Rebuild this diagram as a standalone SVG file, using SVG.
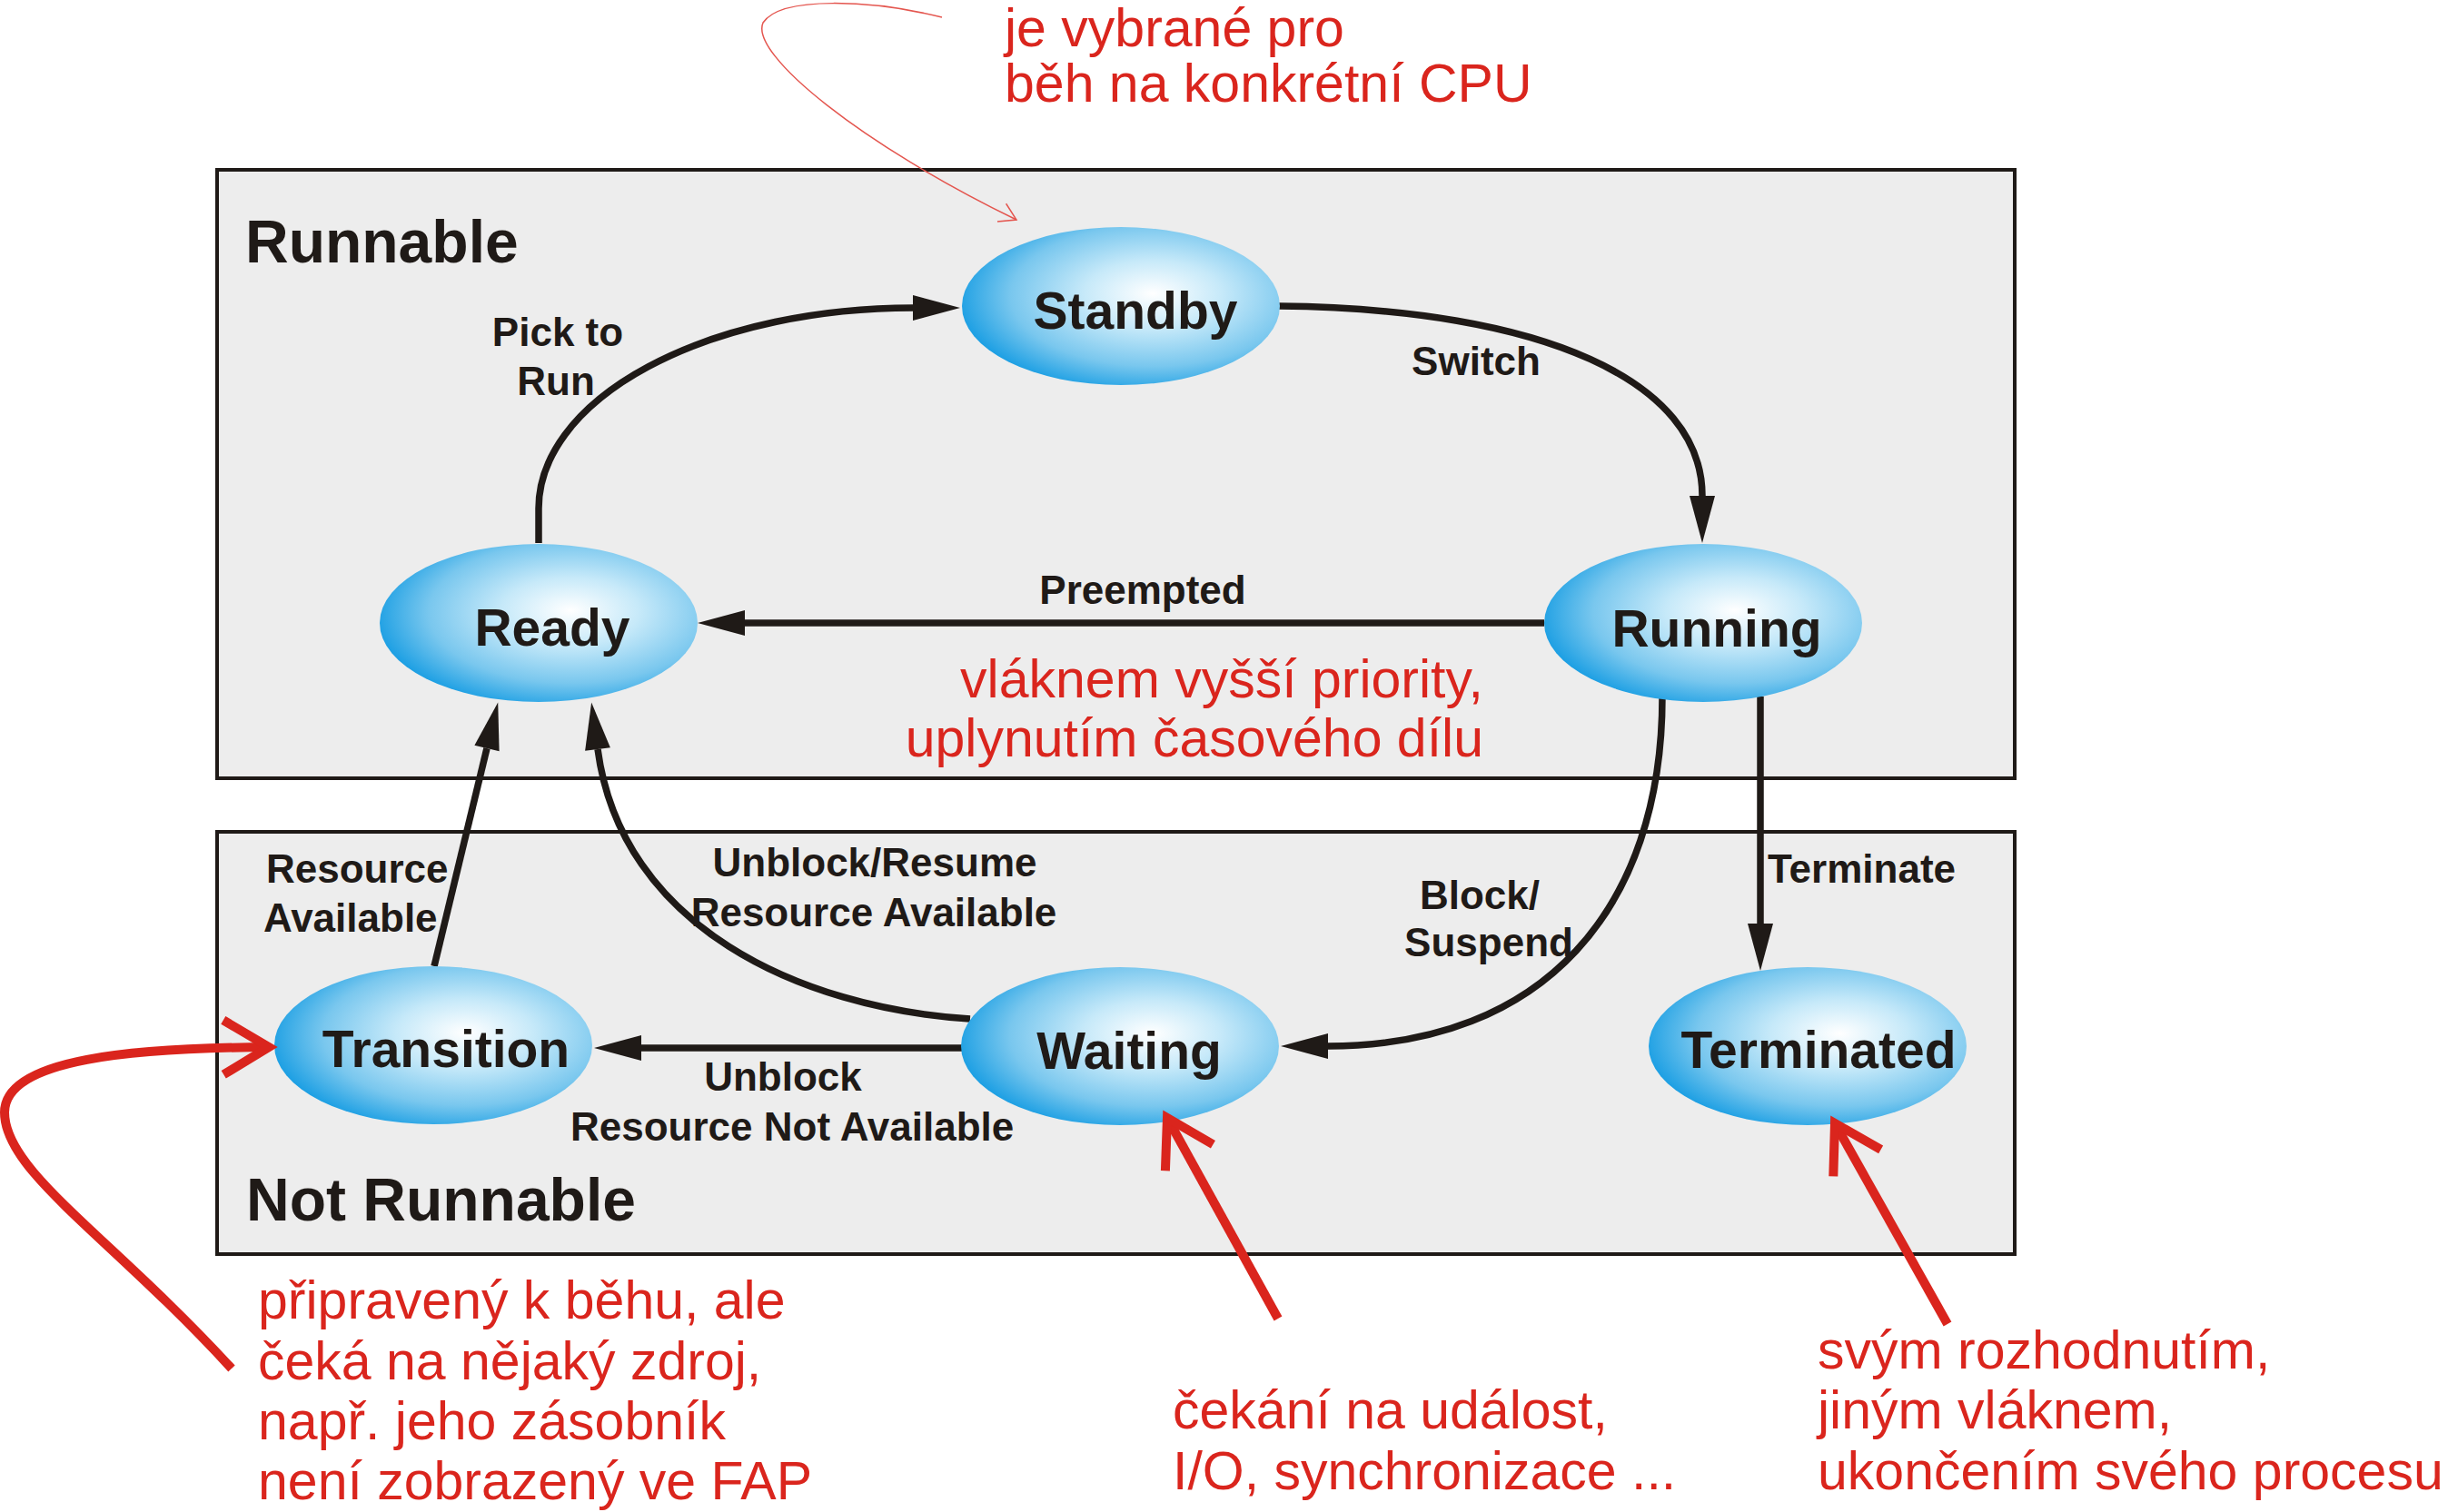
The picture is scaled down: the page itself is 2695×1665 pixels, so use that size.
<svg xmlns="http://www.w3.org/2000/svg" width="2695" height="1665" viewBox="0 0 2695 1665">
<style>
.box{fill:#ededed;stroke:#1f1a17;stroke-width:4}
.node{stroke:none;fill:url(#blue)}
.nt{font-family:"Liberation Sans",Arial,sans-serif;font-weight:bold;font-size:57px;fill:#1f1a17;text-anchor:middle}
.grp{font-family:"Liberation Sans",Arial,sans-serif;font-weight:bold;font-size:66px;fill:#1f1a17}
.el{font-family:"Liberation Sans",Arial,sans-serif;font-weight:bold;font-size:44px;fill:#1f1a17}
.mid{text-anchor:middle}
.conn{fill:none;stroke:#1f1a17;stroke-width:7.5}
.red{font-family:"Liberation Sans",Arial,sans-serif;font-size:59px;fill:#da251d}
.rarrow{fill:none;stroke:#da251d;stroke-width:10}
.thin{fill:none;stroke:#e4564f;stroke-width:1.5}
</style>
<defs>
<radialGradient id="blue" cx="0.6" cy="0.44" r="0.62" fx="0.6" fy="0.42">
<stop offset="0" stop-color="#ffffff"/>
<stop offset="0.35" stop-color="#c6e9f9"/>
<stop offset="0.72" stop-color="#79c7ee"/>
<stop offset="1" stop-color="#1a9ee3"/>
</radialGradient>
<marker id="ah" markerUnits="userSpaceOnUse" orient="auto" refX="0" refY="0" markerWidth="60" markerHeight="40" overflow="visible">
<path d="M0,-14 L52,0 L0,14 Z" fill="#1f1a17"/>
</marker>
<marker id="rch" markerUnits="userSpaceOnUse" orient="auto" refX="0" refY="0" markerWidth="80" markerHeight="80" overflow="visible">
<path d="M-50,-30 L0,0 L-50,30" fill="none" stroke="#da251d" stroke-width="10" stroke-linejoin="miter"/>
</marker>
<marker id="thinch" markerUnits="userSpaceOnUse" orient="auto" refX="0" refY="0" markerWidth="30" markerHeight="30" overflow="visible">
<path d="M-18,-11 L0,0 L-18,11" fill="none" stroke="#e4564f" stroke-width="1.5"/>
</marker>
</defs>

<rect x="0" y="0" width="2695" height="1665" fill="#ffffff"/>

<g id="group-runnable">
<rect class="box" x="239" y="187" width="1979" height="670"/>
<text class="grp" x="270" y="289">Runnable</text>
</g>
<g id="group-notrunnable">
<rect class="box" x="239" y="916" width="1979" height="465"/>
<text class="grp" x="271" y="1344">Not Runnable</text>
</g>

<g id="connectors">
<path class="conn" d="M593,598 L593,560 A412,221 0 0 1 1005,339" marker-end="url(#ah)"/>
<path class="conn" d="M1408,337 C1700,340 1874,420 1874,546" marker-end="url(#ah)"/>
<path class="conn" d="M1700,686 L820,686" marker-end="url(#ah)"/>
<path class="conn" d="M1830,767 C1830,1000 1700,1152 1462,1152" marker-end="url(#ah)"/>
<path class="conn" d="M1938,767 L1938,1017" marker-end="url(#ah)"/>
<path class="conn" d="M1068,1122 C880,1110 684,1020 658,825" marker-end="url(#ah)"/>
<path class="conn" d="M478,1064 L536,824" marker-end="url(#ah)"/>
<path class="conn" d="M1059,1154 L706,1154" marker-end="url(#ah)"/>
<g id="edge-labels">
<text class="el mid" x="614" y="381">Pick to</text>
<text class="el mid" x="612" y="435">Run</text>
<text class="el mid" x="1625" y="413">Switch</text>
<text class="el mid" x="1258" y="665">Preempted</text>
<text class="el" x="293" y="972">Resource</text>
<text class="el" x="290" y="1026">Available</text>
<text class="el mid" x="963" y="965">Unblock/Resume</text>
<text class="el mid" x="962" y="1020">Resource Available</text>
<text class="el mid" x="1629" y="1001">Block/</text>
<text class="el mid" x="1639" y="1053">Suspend</text>
<text class="el" x="1946" y="972">Terminate</text>
<text class="el mid" x="862" y="1201">Unblock</text>
<text class="el" x="628" y="1256">Resource Not Available</text>
</g>
</g>

<g id="node-standby">
<ellipse class="node" cx="1234" cy="337" rx="175" ry="87"/>
<text class="nt" x="1250" y="362">Standby</text>
</g>
<g id="node-ready">
<ellipse class="node" cx="593" cy="686" rx="175" ry="87"/>
<text class="nt" x="608" y="711">Ready</text>
</g>
<g id="node-running">
<ellipse class="node" cx="1875" cy="686" rx="175" ry="87"/>
<text class="nt" x="1890" y="712">Running</text>
</g>
<g id="node-transition">
<ellipse class="node" cx="477" cy="1151" rx="175" ry="87"/>
<text class="nt" x="491" y="1175">Transition</text>
</g>
<g id="node-waiting">
<ellipse class="node" cx="1233" cy="1152" rx="175" ry="87"/>
<text class="nt" x="1243" y="1177">Waiting</text>
</g>
<g id="node-terminated">
<ellipse class="node" cx="1990" cy="1152" rx="175" ry="87"/>
<text class="nt" x="2002" y="1176">Terminated</text>
</g>

<g id="annotations">
<path class="thin" d="M1037,19 C960,0 860,-5 840,25 C825,60 950,160 1119,242" marker-end="url(#thinch)"/>
<text class="red" x="1106" y="51">je vybrané pro</text>
<text class="red" x="1106" y="112">běh na konkrétní CPU</text>

<text class="red" x="1633" y="768" text-anchor="end">vláknem vyšší priority,</text>
<text class="red" x="1633" y="833" text-anchor="end">uplynutím časového dílu</text>

<path class="rarrow" d="M255,1507 C120,1360 5,1290 5,1225 C5,1165 150,1154 296,1153" marker-end="url(#rch)"/>
<text class="red" x="284" y="1452">připravený k běhu, ale</text>
<text class="red" x="284" y="1519">čeká na nějaký zdroj,</text>
<text class="red" x="284" y="1585">např. jeho zásobník</text>
<text class="red" x="284" y="1651">není zobrazený ve FAP</text>

<path class="rarrow" d="M1407,1452 L1285,1231" marker-end="url(#rch)"/>
<text class="red" x="1291" y="1573">čekání na událost,</text>
<text class="red" x="1291" y="1640">I/O, synchronizace ...</text>

<path class="rarrow" d="M2144,1458 L2020,1237" marker-end="url(#rch)"/>
<text class="red" x="2001" y="1507">svým rozhodnutím,</text>
<text class="red" x="2001" y="1573">jiným vláknem,</text>
<text class="red" x="2001" y="1640">ukončením svého procesu</text>
</g>
</svg>
